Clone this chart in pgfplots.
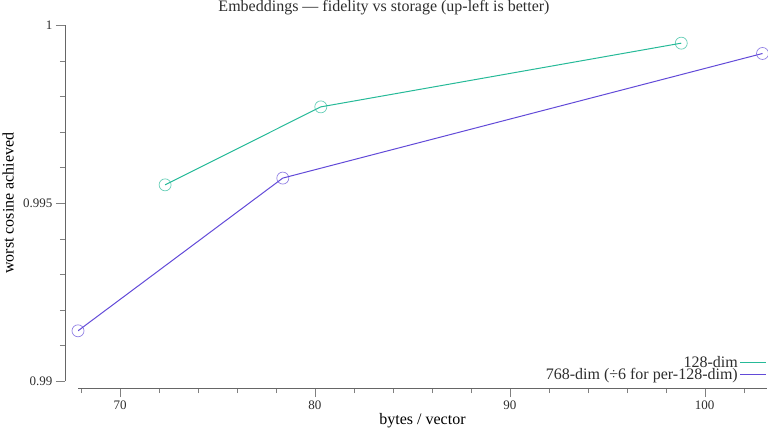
\documentclass[border=0pt]{standalone}
\usepackage{pgfplots}
\pgfplotsset{compat=1.18}
\usepackage{fontspec}
\setmainfont{Liberation Serif}
\definecolor{teal128}{RGB}{38,186,152}
\definecolor{purp768}{RGB}{98,74,216}
\definecolor{txt}{RGB}{45,45,45}
\begin{document}
\begin{tikzpicture}[x=1pt,y=1pt]
\useasboundingbox (0,0) rectangle (768,432);
\node[font=\fontsize{16}{18}\selectfont, text=txt] at (384,424) {Embeddings — fidelity vs storage (up-left is better)};
\begin{axis}[
  at={(78pt,51pt)}, anchor=south west,
  scale only axis, width=689pt, height=356pt,
  xmin=67.84, xmax=103.2, ymin=0.99, ymax=1,
  enlargelimits=false,
  axis lines=left, axis x line shift=7pt, axis y line shift=13pt,
  axis line style={-, black!60},
  tick align=outside,
  major tick length=9pt, minor tick length=5pt,
  tick style={black!50},
  xtick={70,80,90,100}, xticklabels={70,80,90,100},
  minor xtick={68,72,74,76,78,82,84,86,88,92,94,96,98,102},
  ytick={0.99,0.995,1}, yticklabels={0.99,0.995,1},
  minor ytick={0.991,0.992,0.993,0.994,0.996,0.997,0.998,0.999},
  ticklabel style={font=\fontsize{13}{15}\selectfont, text=txt},
  xlabel={bytes / vector}, ylabel={worst cosine achieved},
  label style={font=\fontsize{16}{18}\selectfont, text=black},
  xlabel style={at={(axis description cs:0.5,-0.1124)}, anchor=center},
  ylabel style={at={(axis description cs:-0.1015,0.5)}, anchor=center},
  legend plot pos=right,
  legend cell align=right,
  legend style={at={(1,0)}, anchor=south east, yshift=-2pt, draw=none, fill=none,
    font=\fontsize{16}{16}\selectfont, text=txt, inner sep=0pt, row sep=-5pt},
  legend image code/.code={\draw[#1] plot coordinates {(0pt,0pt) (26pt,0pt)};},
  legend image post style={mark=none},
]
\addplot[teal128, line width=1pt, mark=o, mark size=6pt,
  mark options={draw opacity=0.7, line width=0.7pt}]
  coordinates {(72.31,0.99551) (80.3,0.99770) (98.8,0.99949)};
\addlegendentry{128-dim}
\addplot[purp768, line width=1pt, mark=o, mark size=6pt,
  mark options={draw opacity=0.7, line width=0.7pt}]
  coordinates {(67.84,0.99141) (78.35,0.99570) (102.97,0.99920)};
\addlegendentry{768-dim (÷6 for per-128-dim)}
\end{axis}
\end{tikzpicture}
\end{document}
